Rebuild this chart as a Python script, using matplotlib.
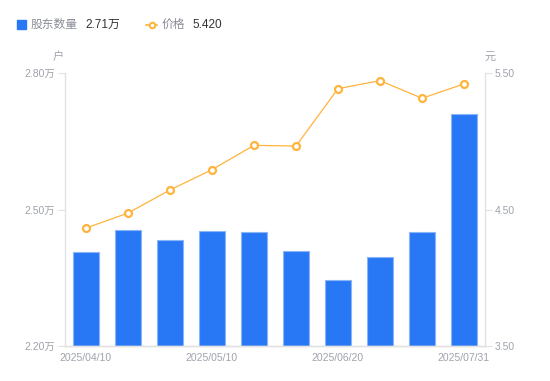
import matplotlib
matplotlib.use('Agg')
import matplotlib.pyplot as plt
from matplotlib.patches import Rectangle
from matplotlib.lines import Line2D

plt.rcParams['font.family'] = ['Liberation Sans', 'Noto Sans CJK SC', 'DejaVu Sans']

# dati
dates = ['2025/04/10', '2025/04/20', '2025/04/30', '2025/05/10', '2025/05/20',
         '2025/06/10', '2025/06/20', '2025/06/30', '2025/07/10', '2025/07/31']
holders = [2.407, 2.456, 2.433, 2.452, 2.450, 2.408, 2.344, 2.395, 2.451, 2.710]  # 万户
price = [4.364, 4.474, 4.643, 4.792, 4.970, 4.965, 5.385, 5.444, 5.315, 5.420]
left_ticks = [2.20, 2.50, 2.80]
right_ticks = [3.50, 4.50, 5.50]
shown_idx = [0, 3, 6, 9]

blue = '#2878f5'
orange = '#ffb43c'
gray = '#a0a3ad'
axis_col = '#e2e2e2'

fig = plt.figure(figsize=(5.5, 3.81), dpi=100)
ax = fig.add_axes([65/550, 35/381, 420/550, 273/381])
ax2 = ax.twinx()

x = list(range(len(dates)))
ax.bar(x, holders, width=0.6, color=blue, edgecolor='#8ab4f8', linewidth=0.8, zorder=2)
ax.set_ylim(2.20, 2.80)
ax.set_xlim(-0.5, len(dates) - 0.5)
ax.set_yticks(left_ticks)
ax.set_yticklabels([f'{v:.2f}万' for v in left_ticks])
ax.set_xticks([x[i] for i in shown_idx])
ax.set_xticklabels([dates[i] for i in shown_idx])

ax2.plot(x, price, color=orange, linewidth=0.9, marker='o', markersize=5,
         markerfacecolor='white', markeredgecolor=orange, markeredgewidth=1.6, zorder=3)
ax2.set_ylim(3.50, 5.50)
ax2.set_yticks(right_ticks)
ax2.set_yticklabels([f'{v:.2f}' for v in right_ticks])

for a in (ax, ax2):
    a.spines['top'].set_visible(False)
    for s in ('left', 'right', 'bottom'):
        a.spines[s].set_color(axis_col)
        a.spines[s].set_linewidth(1)
    a.tick_params(axis='y', colors=gray, labelsize=7.5, length=5, width=0.8, pad=2,
                  color=axis_col)
ax.tick_params(axis='x', colors=gray, labelsize=7.5, length=0, pad=5)
ax2.spines['left'].set_visible(False)
ax.spines['right'].set_visible(False)

# unità
fig.text(58/550, 1 - 57/381, '户', color=gray, fontsize=8, ha='center', va='center')
fig.text(490/550, 1 - 57/381, '元', color=gray, fontsize=8, ha='center', va='center')

# legenda
ly = 1 - 25/381
fig.add_artist(Rectangle((17/550, 1 - 29/381), 8.5/550, 8.5/381, color=blue,
                         transform=fig.transFigure))
fig.text(31/550, ly, '股东数量', color='#8a8d96', fontsize=8.5, va='center')
fig.text(85/550, ly, '2.71万', color='#333333', fontsize=8.5, va='center')
fig.add_artist(Line2D([146/550, 157/550], [ly, ly], color=orange, linewidth=1.2,
                      transform=fig.transFigure))
fig.add_artist(Line2D([151.5/550], [ly], color=orange, marker='o', markersize=4,
                      markerfacecolor='white', markeredgewidth=1.5, transform=fig.transFigure))
fig.text(162/550, ly, '价格', color='#8a8d96', fontsize=8.5, va='center')
fig.text(192/550, ly, '5.420', color='#333333', fontsize=8.5, va='center')

fig.savefig('out.png', dpi=100)
